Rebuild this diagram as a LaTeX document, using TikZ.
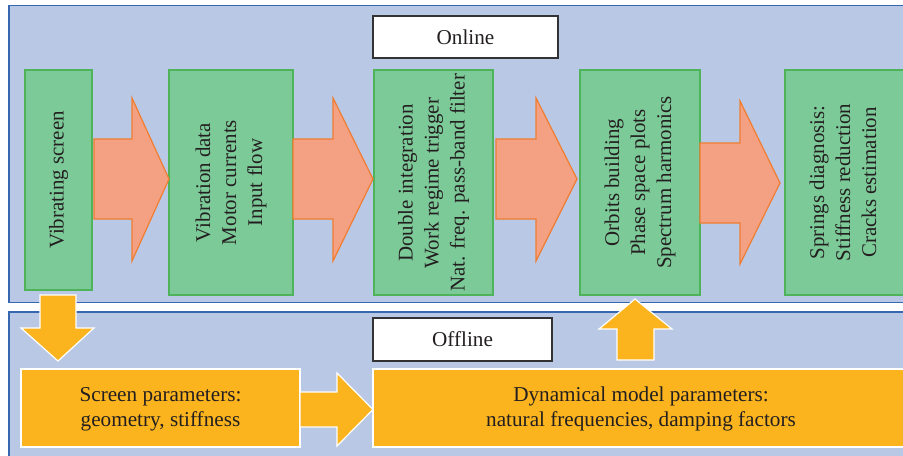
\documentclass[tikz,border=0pt]{standalone}
\usepackage{fontspec}
\setmainfont{Liberation Serif}
\begin{document}
\begin{tikzpicture}[x=0.75pt,y=-0.75pt,
  panel/.style={draw=panelline,fill=panelfill,line width=1pt},
  greenbox/.style={draw=greenline,fill=greenfill,line width=1pt},
  vtext/.style={rotate=90,align=center,text=txt,font=\fontsize{15.7}{19.5}\selectfont},
  htext/.style={align=center,text=txt,font=\fontsize{15.9}{19}\selectfont},
  bigarrow/.style={draw=arrowline,fill=arrowfill,line width=0.9pt,line join=miter},
  ybox/.style={draw=white,fill=yellowfill,line width=0.9pt,line join=miter}]
\definecolor{panelfill}{HTML}{B9C8E5}
\definecolor{panelline}{HTML}{3568B0}
\definecolor{labelline}{HTML}{333333}
\definecolor{greenfill}{HTML}{7DCA99}
\definecolor{greenline}{HTML}{4FB35A}
\definecolor{arrowfill}{HTML}{F4A183}
\definecolor{arrowline}{HTML}{F07D30}
\definecolor{yellowfill}{HTML}{FBB41E}
\definecolor{txt}{HTML}{231F20}
\useasboundingbox (0,0) rectangle (903,455);
\fill[white] (0,0) rectangle (903,455);
\begin{scope}
\clip (0,0) rectangle (903,455);
% panels
\draw[panel] (9,5.5) rectangle (915,302.5);
\draw[panel] (9,312) rectangle (915,470);
% online stage boxes
\draw[greenbox] (25,70) rectangle (92,290);
\draw[greenbox] (169,70) rectangle (293,295);
\draw[greenbox] (374,70) rectangle (493,295);
\draw[greenbox] (580,70) rectangle (700,295);
\draw[greenbox] (785,70) rectangle (910,295);
\node[vtext] (s1) at (58.5,180) {Vibrating screen};
\node[vtext] (s2) at (231,182.5) {Vibration data\\Motor currents\\Input flow};
\node[vtext] (s3) at (433.5,183) {Double integration\\Work regime trigger\\Nat. freq. pass-band filter};
\node[vtext] (s4) at (640,182.5) {Orbits building\\Phase space plots\\Spectrum harmonics};
\node[vtext] (s5) at (843,182.5) {Springs diagnosis:\\Stiffness reduction\\Cracks estimation};
% block arrows between stages
\draw[bigarrow] (94,139) -- (132,139) -- (132,98) -- (169,179) -- (132,261) -- (132,219) -- (94,219) -- cycle;
\draw[bigarrow] (293,139) -- (333,139) -- (333,98) -- (373,179) -- (333,261) -- (333,219) -- (293,219) -- cycle;
\draw[bigarrow] (496,139) -- (536,139) -- (536,98) -- (577,179) -- (536,261) -- (536,219) -- (496,219) -- cycle;
\draw[bigarrow] (700,143) -- (740,143) -- (740,101) -- (780,183) -- (740,264) -- (740,223) -- (700,223) -- cycle;
% offline blocks
\draw[ybox] (21,369) rectangle (300,447);
\draw[ybox] (373,369) rectangle (915,447);
\node[htext] (p1) at (160.5,409) {Screen parameters:\\geometry, stiffness};
\node[htext] (p2) at (641,409) {Dynamical model parameters:\\natural frequencies, damping factors};
\draw[ybox] (40,295) -- (76,295) -- (76,328) -- (94,328) -- (58,361) -- (21,328) -- (40,328) -- cycle;
\draw[ybox] (300,392) -- (337,392) -- (337,373) -- (373,409.5) -- (337,446) -- (337,427) -- (300,427) -- cycle;
\draw[ybox] (617,360) -- (617,329) -- (599,329) -- (635,299) -- (672,329) -- (654,329) -- (654,360) -- cycle;
% section labels
\draw[labelline,fill=white,line width=1pt] (373,16) rectangle (558,58);
\node[htext] (on) at (465.5,37) {Online};
\draw[labelline,fill=white,line width=1pt] (373,318) rectangle (552,361);
\node[htext] (off) at (462.5,339.5) {Offline};
\end{scope}
\end{tikzpicture}
\end{document}
